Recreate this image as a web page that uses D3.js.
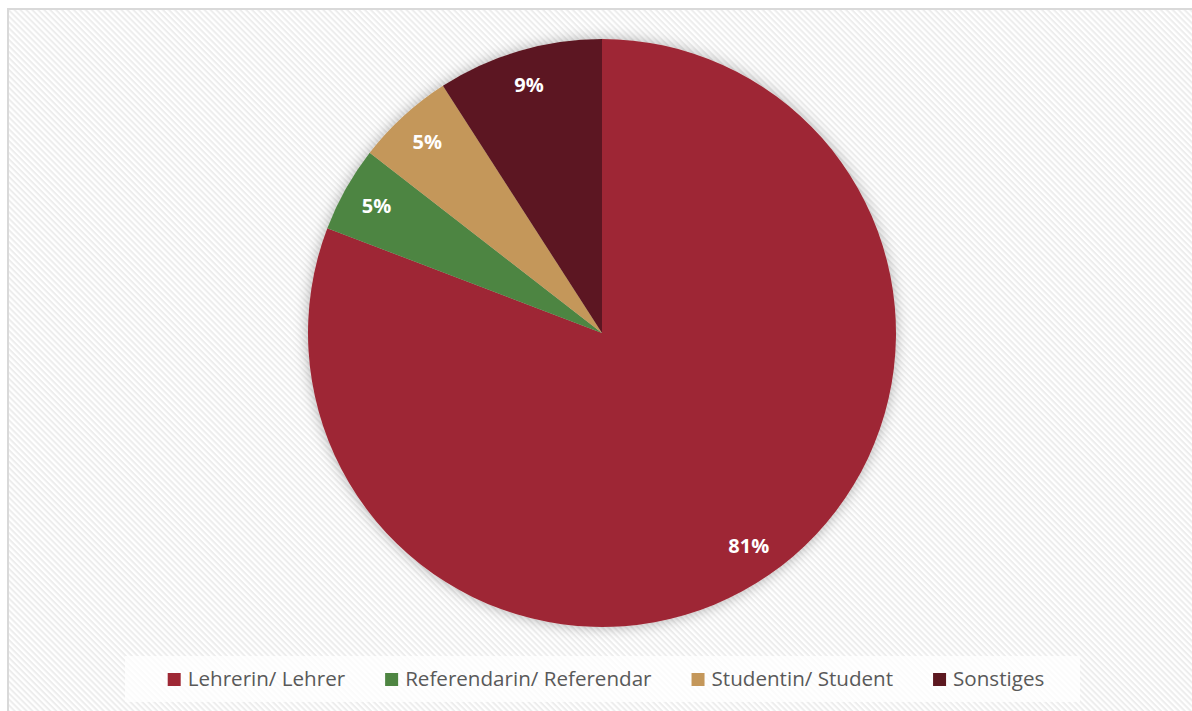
<!DOCTYPE html>
<html>
<head>
<meta charset="utf-8">
<script src="https://cdn.jsdelivr.net/npm/d3@7"></script>
<style>
  html, body { margin: 0; padding: 0; background: #fff; }
  svg { display: block; font-family: "Open Sans", sans-serif; }
</style>
</head>
<body>
<svg id="chart" width="1192" height="711"></svg>
<script>
// categories and shares in percent
const categories = ['Lehrerin/ Lehrer', 'Referendarin/ Referendar', 'Studentin/ Student', 'Sonstiges'];
const shares = [80.8, 4.7, 5.4, 9.1];
const colors = ['#9e2835', '#4e8542', '#c4975a', '#5c1820'];

const width = 1192;
const height = 711;
const cx = 602, cy = 333, radius = 294;

const $svg = d3.select('#chart');
const defs = $svg.append('defs');

// hatched chart background
const pat = defs.append('pattern')
  .attr('id', 'hatch')
  .attr('patternUnits', 'userSpaceOnUse')
  .attr('width', 4.2).attr('height', 4.2)
  .attr('patternTransform', 'rotate(45)');
pat.append('rect').attr('width', 4.2).attr('height', 4.2).attr('fill', '#ffffff');
pat.append('rect').attr('width', 4.2).attr('height', 2).attr('fill', '#ededed');

const shadow = defs.append('filter')
  .attr('id', 'shadow')
  .attr('x', '-20%').attr('y', '-20%').attr('width', '140%').attr('height', '140%');
shadow.append('feDropShadow')
  .attr('dx', 0).attr('dy', 0)
  .attr('stdDeviation', 7)
  .attr('flood-color', '#000')
  .attr('flood-opacity', 0.3);

$svg.append('rect')
  .attr('x', 8).attr('y', 9)
  .attr('width', width + 10).attr('height', height + 10)
  .attr('fill', 'url(#hatch)')
  .attr('stroke', '#d9d9d9')
  .attr('stroke-width', 2);

// pie
const total = d3.sum(shares);
const pie = d3.pie().sort(null).value(d => d);
const arcs = pie(shares);
const arc = d3.arc().innerRadius(0).outerRadius(radius);
const labelArc = d3.arc().innerRadius(radius * 0.88).outerRadius(radius * 0.88);

const $pie = $svg.append('g').attr('transform', `translate(${cx},${cy})`);

$pie.append('g')
  .attr('filter', 'url(#shadow)')
  .selectAll('path')
  .data(arcs)
  .enter()
  .append('path')
  .attr('d', arc)
  .attr('fill', (d, i) => colors[i]);

$pie.selectAll('.label')
  .data(arcs)
  .enter()
  .append('text')
  .attr('class', 'label')
  .attr('transform', d => `translate(${labelArc.centroid(d)})`)
  .attr('text-anchor', 'middle')
  .attr('dy', '0.36em')
  .attr('fill', '#fff')
  .attr('font-weight', 700)
  .attr('font-size', 20)
  .text(d => `${Math.round(d.value / total * 100)}%`);

// legend
const $legend = $svg.append('g');
const $legendBg = $legend.append('rect')
  .attr('fill', '#fff')
  .attr('fill-opacity', 0.75);

const $items = $legend.selectAll('.item')
  .data(categories)
  .enter()
  .append('g')
  .attr('class', 'item');

$items.append('rect')
  .attr('width', 13).attr('height', 13)
  .attr('y', -13)
  .attr('fill', (d, i) => colors[i]);

$items.append('text')
  .attr('x', 20)
  .attr('font-size', 20.6)
  .attr('fill', '#595959')
  .text(d => d);

const gap = 40;
let widths = [];
$items.each(function () {
  widths.push(20 + d3.select(this).select('text').node().getComputedTextLength());
});
const legendWidth = d3.sum(widths) + gap * (widths.length - 1);
let x = 606 - legendWidth / 2;
const baseline = 686;
$items.attr('transform', (d, i) => {
  const t = `translate(${x},${baseline})`;
  x += widths[i] + gap;
  return t;
});

$legendBg
  .attr('x', 125)
  .attr('y', 656)
  .attr('width', 955)
  .attr('height', 46);
</script>
</body>
</html>
